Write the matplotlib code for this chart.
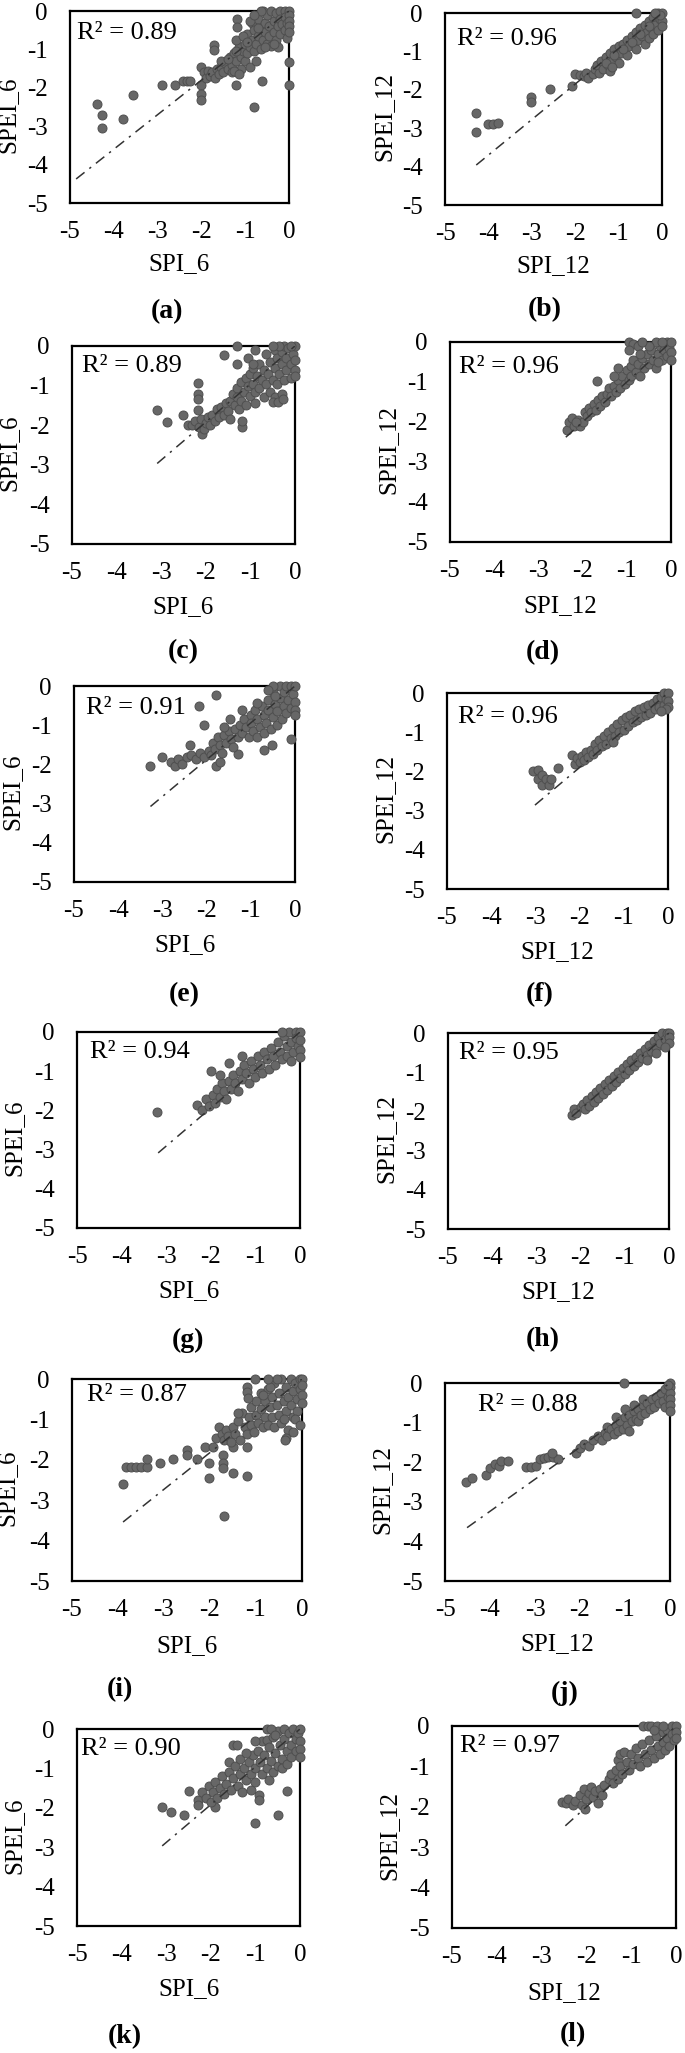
import numpy as np
import matplotlib
matplotlib.use("Agg")
import matplotlib.pyplot as plt

plt.rcParams['font.family'] = ['Liberation Serif', 'DejaVu Serif']
plt.rcParams['axes.unicode_minus'] = False

# ---- data (SPI on x, SPEI on y) ----
a_pts = [(-4.39, -2.41), (-4.28, -2.72), (-4.28, -3.04), (-3.80, -2.82), (-3.57, -2.20), (-2.91, -1.94),
         (-2.60, -1.94), (-2.41, -1.81), (-2.33, -1.81), (-2.26, -1.81), (-2.01, -1.93), (-2.01, -2.15),
         (-2.01, -2.33), (-1.20, -1.94), (-0.81, -2.50), (-0.62, -1.81), (0.0, -1.33), (0.0, -1.94),
         (-1.72, -0.89), (-1.72, -1.01), (-1.19, -0.20), (-1.19, -0.42),
         (-2.0, -1.45), (-1.95, -1.6), (-1.9, -1.75), (-1.85, -1.55), (-1.8, -1.7), (-1.75, -1.6), (-1.7, -1.75),
         (-1.65, -1.5), (-1.6, -1.65), (-1.55, -1.45), (-1.5, -1.6), (-1.45, -1.35), (-1.4, -1.5), (-1.35, -1.2),
         (-1.3, -1.4), (-1.3, -1.6), (-1.25, -1.1), (-1.2, -1.3), (-1.15, -0.95), (-1.1, -1.2), (-1.1, -1.5),
         (-1.05, -1.05), (-1.0, -0.85), (-1.0, -1.3), (-0.95, -0.6), (-0.95, -1.1), (-0.9, -0.95), (-0.9, -1.45),
         (-0.85, -0.75), (-0.85, -0.3), (-0.8, -1.05), (-0.8, -0.5), (-0.75, -0.85), (-0.75, -1.3), (-0.7, -0.65),
         (-0.7, -0.2), (-0.65, -0.45), (-0.65, -1.0), (-0.6, -0.75), (-0.6, 0.0), (-0.55, -0.3), (-0.55, -0.55),
         (-0.5, -0.85), (-0.5, -0.1), (-0.45, -0.4), (-0.45, -0.65), (-0.4, 0.0), (-0.4, -0.9), (-0.35, -0.25),
         (-0.35, -0.55), (-0.3, -0.75), (-0.3, -0.05), (-0.25, -0.4), (-0.25, -0.95), (-0.2, 0.0), (-0.2, -0.2),
         (-0.2, -0.6), (-0.15, -0.35), (-0.1, 0.0), (-0.1, -0.5), (-0.1, -0.15), (-0.05, -0.3), (-0.05, -0.7),
         (0.0, 0.0), (0.0, -0.1), (0.0, -0.25), (0.0, -0.4), (0.0, -0.55), (-0.65, 0.0), (-0.55, -0.95),
         (-0.35, -0.85), (-1.2, -0.75), (-1.05, -0.65), (-0.9, -0.25), (-0.8, -0.1), (-1.55, -1.3),
         (-1.25, -1.55), (-1.15, -1.65), (-1.4, -1.25), (-1.2, -1.05), (-0.95, -0.8), (-0.7, -0.45)]

b_pts = [(-4.28, -2.61), (-4.28, -3.09), (-4.0, -2.89), (-3.89, -2.89), (-3.78, -2.87), (-3.01, -2.18),
         (-3.01, -2.31), (-2.58, -1.99), (-2.07, -1.90), (-0.6, 0.0),
         (-2.0, -1.6), (-1.9, -1.62), (-1.8, -1.65), (-1.75, -1.55), (-1.7, -1.68), (-1.6, -1.6), (-1.55, -1.45),
         (-1.5, -1.35), (-1.45, -1.55), (-1.4, -1.25), (-1.35, -1.45), (-1.3, -1.15), (-1.25, -1.35), (-1.2, -1.05),
         (-1.2, -1.5), (-1.15, -1.25), (-1.1, -0.95), (-1.05, -1.15), (-1.0, -0.85), (-1.0, -1.3), (-0.95, -1.05),
         (-0.9, -0.8), (-0.85, -0.95), (-0.8, -0.7), (-0.8, -1.1), (-0.75, -0.85), (-0.7, -0.6), (-0.65, -0.8),
         (-0.6, -0.5), (-0.6, -0.95), (-0.55, -0.7), (-0.5, -0.4), (-0.45, -0.6), (-0.4, -0.3), (-0.4, -0.8),
         (-0.35, -0.5), (-0.3, -0.2), (-0.3, -0.65), (-0.25, -0.4), (-0.2, -0.1), (-0.2, -0.55), (-0.15, -0.3),
         (-0.1, 0.0), (-0.1, -0.45), (-0.05, -0.15), (0.0, 0.0), (0.0, -0.2), (0.0, -0.35), (-0.05, -0.05),
         (-0.15, 0.0), (-0.3, -0.35), (-0.5, -0.55), (-0.7, -0.75), (-0.9, -0.95), (-1.1, -1.1), (-1.3, -1.3),
         (-1.15, -1.4)]

c_pts = [(-3.09, -1.61), (-2.88, -1.92), (-2.51, -1.73), (-2.17, -0.93), (-2.17, -1.2), (-2.17, -1.33),
         (-2.17, -1.61), (-1.59, -0.22), (-1.29, 0.0), (-1.29, -0.45), (-1.19, -2.05), (-1.19, -1.9), (-2.08, -2.23),
         (-2.4, -2.0), (-2.3, -2.0), (-2.25, -1.9), (-2.15, -2.05), (-2.1, -1.85), (-2.05, -2.1), (-2.0, -1.95),
         (-1.95, -1.8), (-1.9, -2.0), (-1.85, -1.75), (-1.8, -1.9), (-1.75, -1.6), (-1.7, -1.8), (-1.65, -1.55),
         (-1.6, -1.75), (-1.55, -1.45), (-1.5, -1.65), (-1.45, -1.4), (-1.45, -1.85), (-1.4, -1.2), (-1.35, -1.5),
         (-1.3, -1.05), (-1.3, -1.3), (-1.25, -1.6), (-1.2, -0.9), (-1.2, -1.4), (-1.15, -1.15), (-1.1, -0.8),
         (-1.1, -1.5), (-1.05, -1.0), (-1.0, -0.7), (-1.0, -1.25), (-0.95, -0.55), (-0.95, -0.95), (-0.9, -1.15),
         (-0.9, -1.45), (-0.85, -0.75), (-0.8, -0.45), (-0.8, -1.05), (-0.75, -0.85), (-0.7, -0.6), (-0.7, -1.3),
         (-0.65, -0.2), (-0.65, -0.95), (-0.6, -0.7), (-0.55, -0.4), (-0.55, -1.15), (-0.5, -0.85), (-0.45, -0.55),
         (-0.45, -0.1), (-0.45, -1.3), (-0.4, -0.3), (-0.4, -0.95), (-0.35, -0.7), (-0.3, -0.15), (-0.3, -0.45),
         (-0.3, -1.2), (-0.25, 0.0), (-0.25, -0.85), (-0.2, -0.6), (-0.2, -0.3), (-0.15, -0.05), (-0.1, -0.45),
         (-0.1, -0.8), (-0.05, -0.2), (0.0, 0.0), (0.0, -0.35), (0.0, -0.6), (0.0, -0.75), (-0.1, 0.0),
         (-0.35, 0.0), (-0.49, 0.0), (-0.9, -0.1), (-1.05, -0.3), (-0.94, -0.45), (-0.49, -1.41), (-0.38, -1.41),
         (-0.27, -1.33)]

d_pts = [(-2.36, -2.2), (-2.3, -2.0), (-2.25, -1.9), (-2.2, -2.1), (-2.1, -1.95), (-2.05, -2.1), (-2.0, -2.0),
         (-2.15, -2.0), (-1.95, -1.75), (-1.9, -1.85), (-1.85, -1.65), (-1.8, -1.75), (-1.75, -1.55), (-1.7, -1.7),
         (-1.65, -1.45), (-1.6, -1.6), (-1.68, -0.98), (-1.55, -1.35), (-1.5, -1.5), (-1.45, -1.3), (-1.4, -1.15),
         (-1.35, -1.35), (-1.3, -1.1), (-1.25, -1.25), (-1.2, -0.95), (-1.2, -0.65), (-1.15, -1.15), (-1.1, -0.85),
         (-1.05, -1.05), (-1.0, -0.7), (-0.95, -0.95), (-0.9, -0.6), (-0.9, -0.85), (-0.85, -0.45), (-0.8, -0.75),
         (-0.75, -0.55), (-0.7, -0.85), (-0.65, -0.4), (-0.6, -0.65), (-0.55, -0.3), (-0.5, -0.55), (-0.45, -0.2),
         (-0.4, -0.45), (-0.35, -0.65), (-0.3, -0.3), (-0.25, -0.1), (-0.2, -0.45), (-0.15, -0.2), (-0.1, 0.0),
         (-0.1, -0.35), (-0.05, -0.15), (0.0, 0.0), (0.0, -0.25), (0.0, -0.45), (-0.35, 0.0), (-0.2, 0.0),
         (-0.5, -0.1), (-0.95, 0.0), (-0.85, -0.05), (-0.75, -0.1), (-0.95, -0.2), (-0.65, 0.0), (-0.3, -0.5),
         (-0.7, -0.3), (-1.3, -0.85)]

e_pts = [(-3.27, -2.04), (-3.0, -1.82), (-2.8, -1.95), (-2.72, -2.05), (-2.65, -1.85), (-2.55, -1.98),
         (-2.38, -1.51), (-2.18, -0.51), (-2.07, -1.0), (-1.78, -0.23), (-1.78, -2.05), (-1.7, -1.95), (-1.3, -1.74),
         (-0.71, -1.64), (-0.51, -1.51), (-0.08, -1.34),
         (-2.45, -1.8), (-2.35, -1.75), (-2.25, -1.85), (-2.15, -1.7), (-2.05, -1.8), (-1.95, -1.65), (-1.9, -1.75),
         (-1.85, -1.45), (-1.8, -1.6), (-1.75, -1.3), (-1.7, -1.5), (-1.65, -1.7), (-1.6, -1.25), (-1.55, -1.45),
         (-1.5, -1.15), (-1.45, -1.35), (-1.4, -1.55), (-1.35, -1.1), (-1.3, -1.3), (-1.25, -1.0), (-1.2, -1.2),
         (-1.15, -0.85), (-1.1, -1.05), (-1.05, -1.3), (-1.0, -0.75), (-1.0, -0.95), (-0.95, -1.15), (-0.9, -0.6),
         (-0.85, -0.85), (-0.85, -1.3), (-0.8, -1.05), (-0.75, -0.5), (-0.7, -0.75), (-0.7, -1.2), (-0.65, -0.95),
         (-0.6, -0.35), (-0.6, -0.6), (-0.55, -1.1), (-0.5, -0.8), (-0.5, -0.15), (-0.45, -0.45), (-0.4, -0.65),
         (-0.4, -1.0), (-0.35, 0.0), (-0.35, -0.3), (-0.3, -0.85), (-0.25, -0.5), (-0.25, -0.15), (-0.2, 0.0),
         (-0.2, -0.7), (-0.15, -0.35), (-0.1, -0.55), (-0.1, 0.0), (-0.05, -0.2), (0.0, 0.0), (0.0, -0.4),
         (0.0, -0.6), (0.0, -0.75), (-0.5, 0.0), (-0.6, -0.1), (-0.45, -0.25), (-1.2, -0.6), (-0.87, -0.44),
         (-1.48, -0.83), (-1.6, -1.05)]

f_pts = [(-3.05, -2.0), (-2.95, -1.96), (-2.95, -2.2), (-2.85, -2.1), (-2.85, -2.35), (-2.75, -2.2), (-2.7, -2.35),
         (-2.64, -2.2), (-2.48, -1.91), (-2.18, -1.57),
         (-2.1, -1.8), (-2.05, -1.65), (-2.0, -1.75), (-1.95, -1.6), (-1.9, -1.7), (-1.85, -1.5), (-1.8, -1.62),
         (-1.75, -1.45), (-1.7, -1.55), (-1.65, -1.3), (-1.6, -1.45), (-1.55, -1.2), (-1.5, -1.35), (-1.45, -1.1),
         (-1.4, -1.3), (-1.35, -1.0), (-1.3, -1.15), (-1.25, -0.9), (-1.2, -1.1), (-1.15, -0.8), (-1.1, -1.0),
         (-1.05, -0.7), (-1.0, -0.95), (-0.95, -0.6), (-0.9, -0.85), (-0.85, -0.55), (-0.8, -0.75), (-0.75, -0.45),
         (-0.7, -0.7), (-0.65, -0.4), (-0.6, -0.6), (-0.55, -0.35), (-0.5, -0.55), (-0.45, -0.3), (-0.4, -0.5),
         (-0.35, -0.25), (-0.3, -0.4), (-0.25, -0.15), (-0.2, -0.35), (-0.15, -0.1), (-0.1, -0.3), (-0.1, 0.0),
         (-0.05, -0.15), (0.0, 0.0), (0.0, -0.2), (0.0, -0.35), (-0.05, -0.4), (-0.15, -0.45), (-1.25, -1.25)]

g_pts = [(-3.2, -2.05), (-2.3, -1.85), (-2.2, -2.0), (-2.1, -1.7), (-2.05, -1.9), (-2.0, -1.0), (-1.95, -1.6),
         (-1.9, -1.8), (-1.85, -1.45), (-1.8, -1.65), (-1.75, -1.3), (-1.7, -1.5), (-1.65, -1.7), (-1.6, -1.25),
         (-1.55, -1.45), (-1.5, -1.1), (-1.45, -1.3), (-1.4, -1.5), (-1.35, -1.0), (-1.3, -1.2), (-1.25, -0.85),
         (-1.2, -1.05), (-1.15, -1.3), (-1.1, -0.75), (-1.05, -0.95), (-1.0, -1.15), (-0.95, -0.6), (-0.9, -0.85),
         (-0.85, -1.05), (-0.8, -0.5), (-0.75, -0.7), (-0.7, -0.95), (-0.65, -0.4), (-0.6, -0.6), (-0.55, -0.85),
         (-0.5, -0.25), (-0.45, -0.5), (-0.4, -0.7), (-0.35, -0.1), (-0.3, -0.35), (-0.3, -0.6), (-0.25, 0.0),
         (-0.2, -0.25), (-0.15, -0.5), (-0.1, 0.0), (-0.1, -0.15), (-0.05, -0.35), (0.0, 0.0), (0.0, -0.2),
         (0.0, -0.45), (0.0, -0.65), (-0.2, -0.75), (-0.4, 0.0), (-1.6, -0.8), (-1.8, -1.1), (-1.3, -0.6)]

h_pts = [(-2.2, -2.1), (-2.15, -1.95), (-2.1, -2.05), (-2.0, -1.9), (-1.95, -1.8), (-1.9, -1.95), (-1.85, -1.7),
         (-1.8, -1.85), (-1.75, -1.6), (-1.7, -1.75), (-1.65, -1.5), (-1.6, -1.65), (-1.55, -1.4), (-1.5, -1.55),
         (-1.45, -1.3), (-1.4, -1.45), (-1.35, -1.2), (-1.3, -1.35), (-1.25, -1.1), (-1.2, -1.25), (-1.15, -1.0),
         (-1.1, -1.15), (-1.05, -0.9), (-1.0, -1.05), (-0.95, -0.8), (-0.9, -0.95), (-0.85, -0.7), (-0.8, -0.85),
         (-0.75, -0.6), (-0.7, -0.75), (-0.65, -0.5), (-0.6, -0.65), (-0.55, -0.4), (-0.5, -0.55), (-0.45, -0.3),
         (-0.4, -0.45), (-0.35, -0.2), (-0.3, -0.35), (-0.25, -0.1), (-0.2, -0.25), (-0.15, 0.0), (-0.1, -0.15),
         (-0.05, 0.0), (0.0, 0.0), (0.0, -0.1), (0.0, -0.25), (-0.1, -0.35), (-0.3, -0.5), (-0.5, -0.7)]

i_pts = [(-3.89, -2.59), (-3.82, -2.17), (-3.71, -2.17), (-3.6, -2.17), (-3.49, -2.17), (-3.38, -2.17),
         (-3.38, -1.97), (-3.08, -2.09), (-2.8, -1.97), (-2.5, -1.76), (-2.5, -1.88), (-2.28, -1.97), (-2.11, -1.69),
         (-2.02, -2.09), (-2.02, -2.46), (-1.93, -1.69), (-1.71, -1.88), (-1.71, -2.09), (-1.71, -2.21),
         (-1.7, -3.40), (-1.49, -2.32), (-1.2, -2.4), (-1.2, -1.69), (-1.49, -1.69),
         (-1.86, -1.45), (-1.8, -1.2), (-1.75, -1.35), (-1.7, -1.5), (-1.65, -1.25), (-1.6, -1.4), (-1.55, -1.55),
         (-1.5, -1.2), (-1.45, -1.35), (-1.4, -1.05), (-1.35, -1.5), (-1.3, -0.85), (-1.25, -1.2), (-1.2, -1.35),
         (-1.15, -0.95), (-1.1, -0.7), (-1.1, -1.15), (-1.05, -1.3), (-1.0, -0.55), (-1.0, -0.9), (-0.95, -1.1),
         (-0.9, -0.35), (-0.9, -0.75), (-0.85, -1.2), (-0.8, -0.55), (-0.8, -0.95), (-0.75, -0.25), (-0.75, -1.15),
         (-0.7, -0.7), (-0.65, -0.45), (-0.65, -0.95), (-0.6, -0.1), (-0.6, -1.2), (-0.55, -0.65), (-0.5, -0.35),
         (-0.5, -0.9), (-0.45, -1.1), (-0.45, 0.0), (-0.4, -0.55), (-0.35, -0.2), (-0.35, -0.8), (-0.3, -1.25),
         (-0.3, -0.45), (-0.25, 0.0), (-0.25, -0.65), (-0.2, -0.3), (-0.2, -0.95), (-0.15, -0.1), (-0.1, -0.5),
         (-0.1, -0.8), (-0.05, 0.0), (-0.05, -0.25), (0.0, 0.0), (0.0, -0.4), (0.0, -0.6), (0.0, -0.15),
         (-0.55, 0.0), (-0.7, -0.2), (-0.85, -0.4), (-0.4, -1.0), (-0.15, -1.0), (-0.35, -1.45), (-1.2, -0.19),
         (-1.2, -0.31), (-1.17, -0.48), (-1.02, 0.0), (-0.73, 0.0), (-0.19, -1.31), (-0.37, -1.51), (-0.04, -1.14),
         (-1.39, -0.85)]

j_pts = [(-4.53, -2.49), (-4.41, -2.40), (-4.1, -2.32), (-4.0, -2.15), (-3.9, -2.05), (-3.8, -2.1), (-3.75, -1.98),
         (-3.6, -1.96), (-3.19, -2.11), (-3.08, -2.11), (-2.97, -2.09), (-2.9, -1.92), (-2.8, -1.9), (-2.72, -1.88),
         (-2.6, -1.88), (-2.49, -1.92), (-2.63, -1.77), (-2.08, -1.77), (-1.02, 0.0),
         (-2.0, -1.65), (-1.9, -1.55), (-1.8, -1.6), (-1.7, -1.45), (-1.6, -1.35), (-1.5, -1.45), (-1.45, -1.25),
         (-1.4, -1.35), (-1.4, -1.1), (-1.3, -1.15), (-1.25, -1.3), (-1.2, -1.05), (-1.2, -0.85), (-1.15, -1.2),
         (-1.1, -0.95), (-1.05, -1.15), (-1.0, -0.85), (-1.0, -0.65), (-0.95, -1.05), (-0.9, -0.8), (-0.9, -1.2),
         (-0.85, -0.95), (-0.8, -0.7), (-0.8, -0.55), (-0.75, -0.9), (-0.7, -0.65), (-0.7, -0.95), (-0.65, -0.8),
         (-0.6, -0.55), (-0.6, -0.4), (-0.55, -0.75), (-0.5, -0.5), (-0.45, -0.65), (-0.4, -0.4), (-0.35, -0.6),
         (-0.3, -0.35), (-0.25, -0.5), (-0.2, -0.25), (-0.15, -0.45), (-0.1, -0.15), (-0.1, -0.6), (-0.05, -0.35),
         (0.0, 0.0), (0.0, -0.1), (0.0, -0.25), (0.0, -0.4), (0.0, -0.55), (0.0, -0.7), (-0.05, -0.05)]

k_pts = [(-3.09, -1.99), (-2.9, -2.1), (-2.6, -2.18), (-2.49, -1.57), (-2.28, -1.8), (-2.28, -1.93), (-1.91, -1.99),
         (-1.01, -2.39), (-0.49, -2.18), (-0.30, -1.57), (-0.91, -1.68), (-0.91, -1.8),
         (-2.2, -1.6), (-2.1, -1.75), (-2.05, -1.45), (-2.0, -1.85), (-1.95, -1.6), (-1.9, -1.35), (-1.85, -1.75),
         (-1.8, -1.5), (-1.75, -1.2), (-1.7, -1.65), (-1.65, -1.4), (-1.6, -1.1), (-1.6, -0.85), (-1.55, -1.55),
         (-1.5, -1.25), (-1.5, -0.4), (-1.45, -0.95), (-1.41, -0.41), (-1.4, -1.45), (-1.35, -1.15), (-1.35, -0.75),
         (-1.3, -1.6), (-1.25, -1.0), (-1.2, -1.3), (-1.15, -0.85), (-1.1, -1.15), (-1.1, -1.55), (-1.05, -0.65),
         (-1.0, -1.0), (-1.0, -1.35), (-0.95, -0.55), (-0.9, -0.85), (-0.85, -1.15), (-0.85, -0.3), (-0.8, -0.65),
         (-0.75, -1.0), (-0.75, -0.28), (-0.7, -0.45), (-0.7, -1.3), (-0.65, -0.8), (-0.6, -0.2), (-0.6, -1.1),
         (-0.55, -0.6), (-0.5, -0.95), (-0.5, -0.05), (-0.45, -0.4), (-0.4, -0.75), (-0.4, -1.0), (-0.35, 0.0),
         (-0.35, -0.25), (-0.3, -0.55), (-0.3, -0.9), (-0.25, -0.1), (-0.2, -0.4), (-0.2, -0.7), (-0.15, 0.0),
         (-0.1, -0.25), (-0.1, -0.55), (-0.05, -0.1), (0.0, 0.0), (0.0, -0.3), (0.0, -0.5), (0.0, -0.7),
         (-0.75, 0.0), (-0.65, 0.0), (-0.55, -0.15), (-1.2, -0.6), (-1.0, -0.3)]

l_pts = [(-2.55, -1.88), (-2.45, -1.9), (-2.4, -1.8), (-2.3, -1.95), (-2.25, -1.85), (-2.15, -1.7), (-2.1, -1.95),
         (-2.03, -2.05), (-2.05, -1.55), (-2.0, -1.8), (-1.95, -1.65), (-1.9, -1.5), (-1.85, -1.75), (-1.8, -1.6),
         (-1.75, -1.9), (-1.7, -1.55), (-1.65, -1.7), (-1.6, -1.45), (-1.5, -1.3), (-1.45, -1.2), (-1.4, -1.4),
         (-1.35, -1.1), (-1.3, -0.85), (-1.3, -1.3), (-1.25, -0.7), (-1.25, -1.0), (-1.2, -1.2), (-1.15, -0.65),
         (-1.1, -0.9), (-1.05, -1.1), (-1.0, -0.7), (-0.95, -0.95), (-0.9, -0.55), (-0.85, -0.8), (-0.8, -1.0),
         (-0.75, -0.45), (-0.7, -0.7), (-0.65, -0.9), (-0.6, -0.35), (-0.55, -0.6), (-0.5, -0.8), (-0.45, -0.25),
         (-0.4, -0.5), (-0.35, -0.7), (-0.3, -0.15), (-0.3, -0.4), (-0.25, -0.6), (-0.2, -0.1), (-0.2, -0.3),
         (-0.15, -0.5), (-0.1, 0.0), (-0.1, -0.2), (-0.05, -0.35), (0.0, 0.0), (0.0, -0.15), (0.0, -0.3),
         (-0.73, 0.0), (-0.63, 0.0), (-0.55, 0.0), (-0.43, 0.0), (-0.5, -0.1), (-0.3, 0.0)]

panel_pts = [a_pts, b_pts, c_pts, d_pts, e_pts, f_pts, g_pts, h_pts, i_pts, j_pts, k_pts, l_pts]
panel_tags = ['(a)', '(b)', '(c)', '(d)', '(e)', '(f)', '(g)', '(h)', '(i)', '(j)', '(k)', '(l)']
r2_values = [0.89, 0.96, 0.89, 0.96, 0.91, 0.96, 0.94, 0.95, 0.87, 0.88, 0.90, 0.97]
x_names = ['SPI_6', 'SPI_12'] * 6
y_names = ['SPEI_6', 'SPEI_12'] * 6
# linear trend (slope, intercept, start on x axis)
trend_slope = [0.90, 0.925, 0.96, 1.0, 0.94, 0.95, 0.97, 0.97, 0.91, 0.81, 0.96, 1.0]
trend_icpt = [0.0, 0.0, 0.0, 0.0, 0.0, 0.0, 0.0, 0.0, 0.0, 0.0, 0.0, 0.0]
trend_from = [-4.86, -4.28, -3.09, -2.38, -3.27, -3.01, -3.18, -2.2, -3.89, -4.51, -3.09, -2.47]
ticks = [-5, -4, -3, -2, -1, 0]

# ---- layout (pixel boxes: left, top, right, bottom) ----
W, H = 685, 2053
boxes = [(70, 11, 289, 203), (445, 13, 662, 205),
         (72, 346, 295, 544), (450, 342, 671, 542),
         (74, 686, 295, 882), (447, 693, 668, 889),
         (77, 1032, 300, 1228), (448, 1033, 669, 1229),
         (72, 1379, 302, 1581), (445, 1383, 670, 1581),
         (77, 1729, 300, 1926), (452, 1726, 676, 1928)]
r2_pos = [(0.03, 0.885), (0.055, 0.865), (0.045, 0.9), (0.04, 0.875), (0.054, 0.89), (0.05, 0.88),
          (0.06, 0.9), (0.05, 0.9), (0.065, 0.92), (0.147, 0.89), (0.018, 0.9), (0.036, 0.9)]
tag_pos = [(167, 312), (545, 310), (183, 652), (543, 653), (184, 995), (540, 995),
           (188, 1340), (543, 1340), (120, 1690), (565, 1693), (125, 2037), (573, 2035)]

fig = plt.figure(figsize=(W / 100, H / 100), dpi=100)

for n in range(12):
    l, t, r, b = boxes[n]
    ax = fig.add_axes([l / W, 1 - b / H, (r - l) / W, (b - t) / H])
    xs = np.array([p[0] for p in panel_pts[n]])
    ys = np.array([p[1] for p in panel_pts[n]])
    ax.scatter(xs, ys, s=42, c='#676767', edgecolors='#4f4f4f', linewidths=0.7, zorder=3, clip_on=False)

    lx = np.array([trend_from[n], xs.max()])
    ax.plot(lx, trend_slope[n] * lx + trend_icpt[n], color='#333333', lw=1.1,
            dashes=(7, 4, 1.5, 4), zorder=4)

    ax.set_xlim(-5, 0)
    ax.set_ylim(-5, 0)
    ax.set_xticks(ticks)
    ax.set_yticks(ticks)
    ax.tick_params(length=0, labelsize=18)
    ax.tick_params(axis='x', pad=13)
    ax.tick_params(axis='y', pad=16)
    for sp in ax.spines.values():
        sp.set_linewidth(1.6)
        sp.set_color('black')
        sp.set_zorder(2)

    ax.set_xlabel(x_names[n], fontsize=18, va='center')
    ax.xaxis.set_label_coords(0.5, -0.32)
    ax.set_ylabel(y_names[n], fontsize=18, va='center')
    ax.yaxis.set_label_coords(-0.28, 0.46)

    ax.text(r2_pos[n][0], r2_pos[n][1], 'R² = %.2f' % r2_values[n], transform=ax.transAxes,
            fontsize=19, va='center', ha='left', zorder=5)

    fig.text(tag_pos[n][0] / W, 1 - tag_pos[n][1] / H, panel_tags[n], fontsize=20,
             fontweight='bold', ha='center', va='center')

fig.savefig('out.png', dpi=100)
